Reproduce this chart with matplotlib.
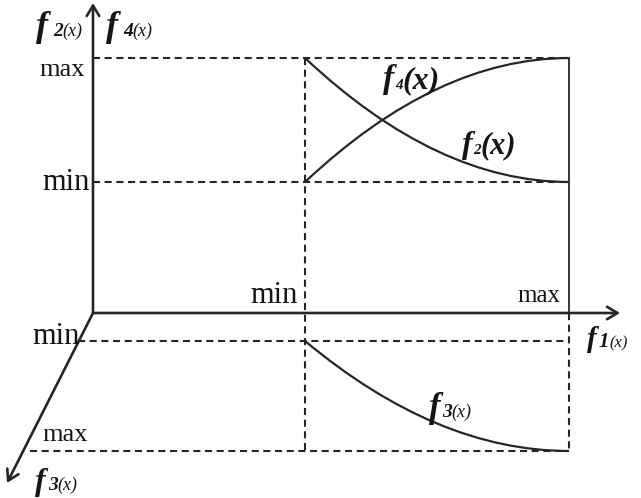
import matplotlib
matplotlib.use("Agg")
import matplotlib.pyplot as plt
from matplotlib.path import Path
from matplotlib.patches import PathPatch

plt.rcParams['font.family'] = ['Liberation Serif', 'DejaVu Serif']

# ---- schematic data (units relative to the origin of the axes) ----
F1_LABELS = ["min", "max"]
F1_POS = [212, 476]            # f1(x) min / max along horizontal axis
F24_LABELS = ["min", "max"]
F24_POS = [131, 255]           # f2/f4 min / max along vertical axis
F3_LABELS = ["min", "max"]
F3_POS = [-28, -138]           # f3 min / max levels (oblique axis, depth)
F3_START_X = [-15, -63]        # where the f3 level lines meet the oblique axis
AXIS_ENDS = {"f1": (527, 0), "f24": (0, 310), "f3": (-86, -170)}

# curves: start, control, end (quadratic)
F2_CURVE = [(F1_POS[0], F24_POS[1]), ((F1_POS[0] + F1_POS[1]) / 2, F24_POS[0]), (F1_POS[1], F24_POS[0])]
F4_CURVE = [(F1_POS[0], F24_POS[0]), ((F1_POS[0] + F1_POS[1]) / 2, F24_POS[1]), (F1_POS[1], F24_POS[1])]
F3_CURVE = [(F1_POS[0], F3_POS[0]), ((F1_POS[0] + F1_POS[1]) / 2, F3_POS[1]), (F1_POS[1], F3_POS[1])]

INK = '#262626'
TXT = '#151515'

fig = plt.figure(figsize=(6.41, 4.98), dpi=100)
ax = fig.add_axes([0, 0, 1, 1])
ax.set_xlim(-93, 548)
ax.set_ylim(-185, 313)
ax.axis('off')
renderer = fig.canvas.get_renderer()

# axes with arrows
arrow_kw = dict(arrowstyle='->,head_length=0.75,head_width=0.45', color=INK, lw=1.9,
                shrinkA=0, shrinkB=0)
for key in ["f1", "f24", "f3"]:
    ax.annotate('', xy=AXIS_ENDS[key], xytext=(0, 0), arrowprops=arrow_kw)

dash_kw = dict(color=INK, lw=1.5, dashes=(3.4, 2.2))

# dashed levels for f2/f4
for y in F24_POS:
    ax.plot([0, F1_POS[1]], [y, y], **dash_kw)
# dashed levels for f3
for y, x0 in zip(F3_POS, F3_START_X):
    ax.plot([x0, F1_POS[1]], [y, y], **dash_kw)
# vertical dashed at f1 min
ax.plot([F1_POS[0], F1_POS[0]], [F24_POS[1], F3_POS[1]], **dash_kw)
# vertical at f1 max: solid above axis, dashed below
ax.plot([F1_POS[1], F1_POS[1]], [0, F24_POS[1]], color=INK, lw=1.3)
ax.plot([F1_POS[1], F1_POS[1]], [0, F3_POS[1]], **dash_kw)

# curves
for pts in [F2_CURVE, F4_CURVE, F3_CURVE]:
    path = Path(pts, [Path.MOVETO, Path.CURVE3, Path.CURVE3])
    ax.add_patch(PathPatch(path, facecolor='none', edgecolor=INK, lw=1.6))

# tick labels
ax.text(-8, F24_POS[1] - 12, F24_LABELS[1], ha='right', va='center', fontsize=19, color=TXT)
ax.text(-3, F24_POS[0], F24_LABELS[0], ha='right', va='center', fontsize=22, color=TXT)
ax.text(F1_POS[0] - 7, 18, F1_LABELS[0], ha='right', va='center', fontsize=22, color=TXT)
ax.text(F1_POS[1] - 9, 17, F1_LABELS[1], ha='right', va='center', fontsize=18, color=TXT)
ax.text(-13, F3_POS[0] + 5, F3_LABELS[0], ha='right', va='center', fontsize=22, color=TXT)
ax.text(-51, F3_POS[1] + 16, F3_LABELS[1], ha='left', va='center', fontsize=19, color=TXT)


def fn_label(base, parts):
    """parts: list of (text, x or None to chain, dy, size, weight)"""
    cur = None
    for txt, x, dy, size, weight in parts:
        xx = x if x is not None else cur
        t = ax.text(xx, base + dy, txt, ha='left', va='baseline', fontsize=size,
                    fontstyle='italic', fontweight=weight, color=TXT)
        bb = t.get_window_extent(renderer)
        cur = ax.transData.inverted().transform((bb.x1, bb.y0))[0]


# function labels (x = left edge, base = baseline, in axis units)
fn_label(277, [("f", -57, 0, 26, 'bold'), ("2", -40, 0, 14, 'bold'), ("(x)", None, 0, 13, 'normal')])
fn_label(277, [("f", 13, 0, 26, 'bold'), ("4", 30, 0, 14, 'bold'), ("(x)", None, 0, 13, 'normal')])
fn_label(225, [("f", 290, 0, 24, 'bold'), ("4", 302, -1, 11, 'bold'), ("(x)", None, 0, 23, 'bold')])
fn_label(160, [("f", 369, 0, 23, 'bold'), ("2", 380, -1, 11, 'bold'), ("(x)", None, 0, 22, 'bold')])
fn_label(-104, [("f", 336, 0, 25, 'bold'), ("3", 349, 0, 14, 'bold'), ("(x)", None, 0, 13, 'normal')])
fn_label(-34, [("f", 494, 0, 21, 'bold'), ("1", 506, 0, 15, 'bold'), ("(x)", None, 0, 12, 'normal')])
fn_label(-177, [("f", -58, 0, 23, 'bold'), ("3", -45, 0, 14, 'bold'), ("(x)", None, 0, 13, 'normal')])

fig.savefig('out.png', dpi=100)
